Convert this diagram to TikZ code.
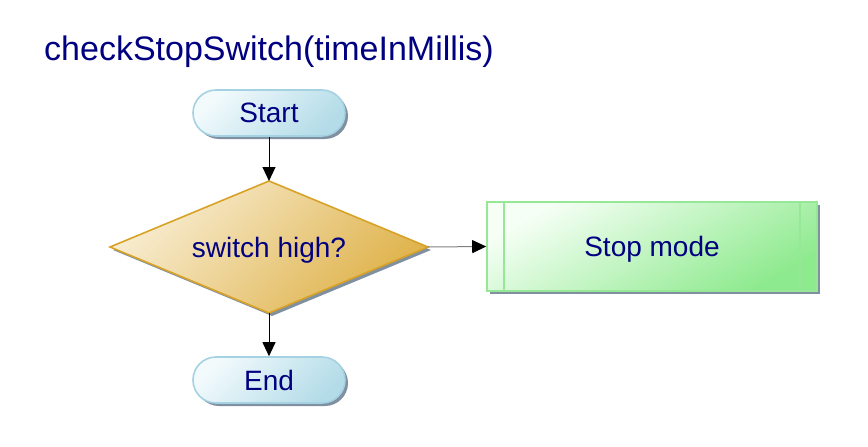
\documentclass[tikz,border=0pt]{standalone}
\usepackage{fontspec}
\setmainfont{Liberation Sans}
\usetikzlibrary{shapes.geometric,arrows.meta,shadows}
\definecolor{navytext}{HTML}{000080}
\definecolor{pillA}{HTML}{F2FAFC}
\definecolor{pillB}{HTML}{B4DCE8}
\definecolor{pillLine}{HTML}{A4D2E2}
\definecolor{diaA}{HTML}{F8EDD2}
\definecolor{diaB}{HTML}{DFB24A}
\definecolor{diaLine}{HTML}{D8A226}
\definecolor{grnA}{HTML}{F6FFF6}
\definecolor{grnB}{HTML}{8EEA8E}
\definecolor{grnLine}{HTML}{96E896}
\definecolor{shad}{HTML}{8090A0}
\definecolor{connGray}{HTML}{808080}
\tikzset{
  boxtext/.style={text=navytext, font=\fontsize{28}{32}\selectfont, text depth=0pt},
  myshadow/.style={drop shadow={shadow xshift=3pt, shadow yshift=-3pt, fill=shad, opacity=1}},
  pill/.style={boxtext, draw=pillLine, line width=1.6pt, rounded corners=23pt,
    minimum width=152pt, minimum height=46pt, inner sep=0pt,
    shading=axis, top color=pillA, bottom color=pillB, shading angle=45, myshadow},
  decision/.style={boxtext, diamond, draw=diaLine, line width=1.6pt, aspect=2.41,
    minimum width=318pt, minimum height=132pt, inner sep=0pt, outer sep=0pt,
    shading=axis, top color=diaA, bottom color=diaB, shading angle=45, myshadow},
  process/.style={boxtext, draw=grnLine, line width=1.6pt,
    minimum width=330pt, minimum height=89pt, inner sep=0pt,
    shading=axis, top color=grnA, bottom color=grnB, shading angle=30, myshadow},
  conn/.style={line width=1pt, -{Triangle[length=14pt,width=13pt]}},
}
\begin{document}
\begin{tikzpicture}[x=1pt,y=-1pt]
\useasboundingbox (0,0) rectangle (868,447);
\node[anchor=base west, inner sep=0pt, text=navytext, font=\fontsize{34}{40}\selectfont] (title) at (44,60) {checkStopSwitch(timeInMillis)};
\node[pill] (start) at (269,113) {Start};
\node[decision] (dec) at (269,247) {switch high?};
\node[process] (stop) at (652,246.5) {Stop mode};
\node[pill] (end) at (269,380) {End};
\draw[grnLine, line width=1.6pt] ([xshift=18pt]stop.north west) -- ([xshift=18pt]stop.south west);
\draw[grnLine, line width=1.6pt] ([xshift=-18pt]stop.north east) -- ([xshift=-18pt]stop.south east);
\draw[conn] (start.south) -- (dec.north);
\draw[conn, draw=connGray, -{Triangle[length=14pt,width=13pt,fill=black,color=black]}] (dec.east) -- (stop.west);
\draw[conn] (dec.south) -- (end.north);
\end{tikzpicture}
\end{document}
